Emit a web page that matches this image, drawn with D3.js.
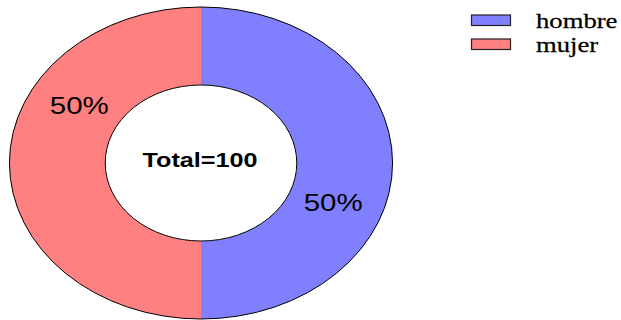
<!DOCTYPE html>
<html>
<head>
<meta charset="utf-8">
<script src="https://cdn.jsdelivr.net/npm/d3@7"></script>
<style>
  html, body { margin: 0; padding: 0; background: #fff; }
  svg { display: block; }
</style>
</head>
<body>
<svg id="chart" width="621" height="320"></svg>
<script>
// ---- data ----
const categories = ["hombre", "mujer"];
const values = [50, 50];
const colors = ["#8080FF", "#FF8080"];
const totalLabel = "Total=";

// ---- layout ----
const W = 621, H = 320;
const cx = 201, cy = 163;
const R = 156;          // outer radius (vertical)
const r0 = 78;          // inner radius (vertical)
const sx = 1.228;       // horizontal stretch of the ellipse
const labelR = 114.5;
const labelAngleOffsetDeg = [20, 30];

const svg = d3.select("#chart");
svg.append("rect").attr("width", W).attr("height", H).attr("fill", "#fff");

const total = d3.sum(values);
const data = categories.map((c, i) => ({ name: c, value: values[i], color: colors[i], i }));

const pie = d3.pie().value(d => d.value).sort(null).startAngle(0).endAngle(2 * Math.PI);
const arcs = pie(data);
const arc = d3.arc().innerRadius(r0).outerRadius(R);

const g = svg.append("g").attr("transform", `translate(${cx},${cy}) scale(${sx},1)`);

g.selectAll("path.slice")
  .data(arcs)
  .join("path")
  .attr("class", "slice")
  .attr("d", arc)
  .attr("fill", d => d.data.color)
  .attr("stroke", "none");

// outlines
const outerOutline = d3.arc().innerRadius(0).outerRadius(R).startAngle(0).endAngle(2 * Math.PI);
g.append("path")
  .attr("d", outerOutline())
  .attr("fill", "none")
  .attr("stroke", "#000")
  .attr("stroke-width", 1)
  .attr("vector-effect", "non-scaling-stroke");
const innerOutline = d3.arc().innerRadius(0).outerRadius(r0).startAngle(0).endAngle(2 * Math.PI);
g.append("path")
  .attr("d", innerOutline())
  .attr("fill", "#fff")
  .attr("stroke", "#000")
  .attr("stroke-width", 1)
  .attr("vector-effect", "non-scaling-stroke");

// percent labels
const pct = d3.format(".0%");
arcs.forEach((a, i) => {
  const mid = (a.startAngle + a.endAngle) / 2 + labelAngleOffsetDeg[i] * Math.PI / 180;
  const x = cx + Math.sin(mid) * labelR * sx;
  const y = cy - Math.cos(mid) * labelR;
  svg.append("text")
    .style("font-family", '"Liberation Sans", Arial, sans-serif')
    .style("font-size", "24px")
    .attr("transform", `translate(${x},${y}) scale(${sx},1)`)
    .attr("text-anchor", "middle")
    .attr("dy", "0.36em")
    .attr("fill", "#000")
    .text(pct(a.data.value / total));
});

// center total
svg.append("text")
  .style("font-family", '"Liberation Sans", Arial, sans-serif')
  .style("font-size", "20.5px")
  .style("font-weight", "bold")
  .attr("transform", `translate(${cx - 1},${cy + 4.3}) scale(${sx},1)`)
  .attr("text-anchor", "middle")
  .attr("fill", "#000")
  .text(totalLabel + total);

// legend
const legX = 471, legY = 14.5, legStep = 24, boxW = 40, boxH = 11.5;
const legTextX = 536, legScale = 1.27;
const leg = svg.append("g");
data.forEach((d, i) => {
  leg.append("rect")
    .attr("x", legX + 0.5).attr("y", legY + i * legStep + 0.5)
    .attr("width", boxW - 1).attr("height", boxH - 1)
    .attr("fill", d.color)
    .attr("stroke", "#222")
    .attr("stroke-width", 1.2);
  leg.append("text")
    .style("font-family", '"Liberation Serif", "Times New Roman", serif')
    .style("font-size", "21px")
    .attr("transform", `translate(${legTextX},${legY + i * legStep + 13}) scale(${legScale},1)`)
    .attr("fill", "#000")
    .attr("stroke", "#000")
    .attr("stroke-width", 0.25)
    .text(d.name);
});
</script>
</body>
</html>
